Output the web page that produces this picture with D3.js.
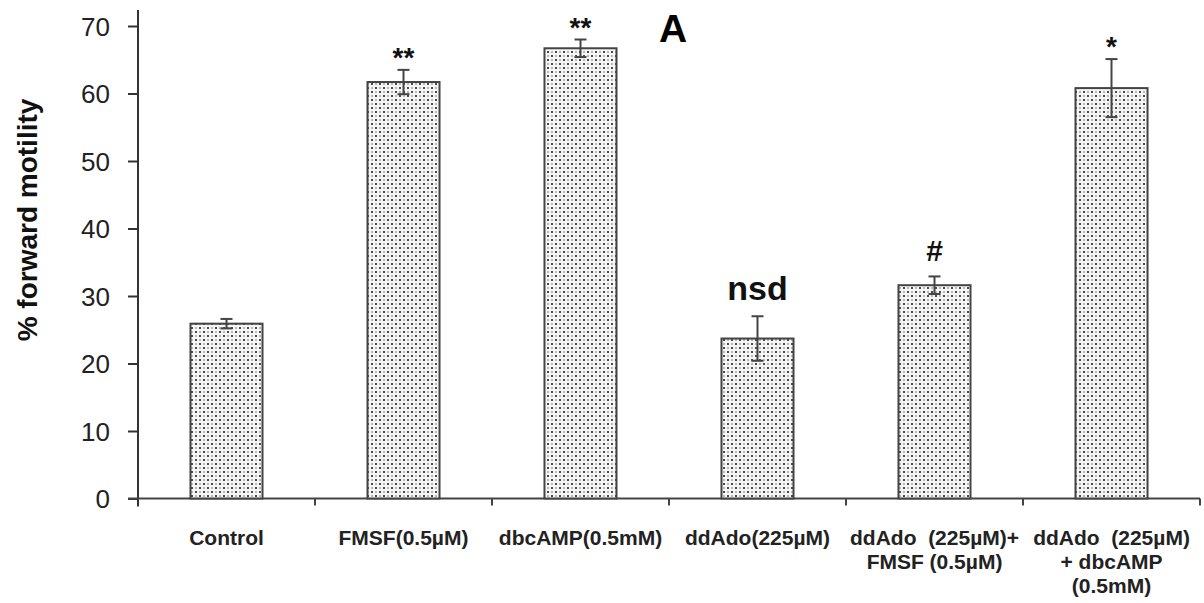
<!DOCTYPE html>
<html>
<head>
<meta charset="utf-8">
<script src="https://cdn.jsdelivr.net/npm/d3@7"></script>
<style>
  body { margin: 0; background: #fff; }
  text { font-family: "Liberation Sans", Arial, sans-serif; }
</style>
</head>
<body>
<div id="vizholder"></div>
<script>
// data
var categories = ["Control", "FMSF(0.5\u00b5M)", "dbcAMP(0.5mM)", "ddAdo(225\u00b5M)",
  "ddAdo  (225\u00b5M)+|FMSF (0.5\u00b5M)", "ddAdo  (225\u00b5M)|+ dbcAMP|(0.5mM)"];
var values = [25.9, 61.7, 66.7, 23.7, 31.6, 60.8];
var errors = [0.7, 1.8, 1.3, 3.3, 1.3, 4.3];
var marks = ["", "**", "**", "nsd", "#", "*"];
var yTicks = [0, 10, 20, 30, 40, 50, 60, 70];

var W = 1204, H = 603;
var margin = {top: 26, right: 4, bottom: 104.5, left: 138};

var svg = d3.select("#vizholder").append("svg")
  .attr("width", W).attr("height", H);

var defs = svg.append("defs");
var pat = defs.append("pattern")
  .attr("id", "dots").attr("patternUnits", "userSpaceOnUse")
  .attr("width", 8).attr("height", 8);
pat.append("rect").attr("width", 8).attr("height", 8).attr("fill", "#f6f6f6");
pat.append("rect").attr("x", 1).attr("y", 1).attr("width", 2).attr("height", 2).attr("fill", "#4a4a4a");
pat.append("rect").attr("x", 5).attr("y", 5).attr("width", 2).attr("height", 2).attr("fill", "#4a4a4a");
pat.append("rect").attr("x", 5).attr("y", 1).attr("width", 2).attr("height", 2).attr("fill", "#b8b8b8");
pat.append("rect").attr("x", 1).attr("y", 5).attr("width", 2).attr("height", 2).attr("fill", "#b8b8b8");

var width = W - margin.left - margin.right,
    height = H - margin.top - margin.bottom;

var g = svg.append("g")
  .attr("transform", "translate(" + margin.left + "," + margin.top + ")");

var x = d3.scaleBand().domain(categories).range([0, 1062]).paddingInner(0.593).paddingOuter(0.2965);
var y = d3.scaleLinear().domain([0, 70]).range([height, 0]);

// y axis
var yAxis = g.append("g")
  .call(d3.axisLeft(y).tickValues(yTicks).tickSize(10).tickSizeOuter(0));
yAxis.select(".domain").attr("stroke", "#333").attr("stroke-width", 2).attr("d", "M0," + (height + 8) + "V-16");
yAxis.selectAll(".tick line").attr("stroke", "#333").attr("stroke-width", 2);
yAxis.selectAll(".tick text")
  .attr("x", -28).attr("dy", "0.36em")
  .style("font-size", "26px").style("fill", "#222");

// x axis baseline and ticks at category boundaries
var step = x.step();
g.append("line")
  .attr("x1", -10).attr("x2", 1062)
  .attr("y1", height).attr("y2", height)
  .attr("stroke", "#444").attr("stroke-width", 2);
g.selectAll(".xtick")
  .data(d3.range(1, categories.length + 1))
  .enter().append("line")
  .attr("x1", function(d) { return d * step; })
  .attr("x2", function(d) { return d * step; })
  .attr("y1", height).attr("y2", height + 7)
  .attr("stroke", "#444").attr("stroke-width", 2);

// bars
g.selectAll(".bar")
  .data(values)
  .enter().append("rect")
  .attr("x", function(d, i) { return x(categories[i]); })
  .attr("y", function(d) { return y(d); })
  .attr("width", x.bandwidth())
  .attr("height", function(d) { return height - y(d); })
  .attr("fill", "url(#dots)")
  .attr("stroke", "#444").attr("stroke-width", 2);

// error bars
var eb = g.selectAll(".err")
  .data(values)
  .enter().append("g")
  .attr("transform", function(d, i) {
    return "translate(" + (x(categories[i]) + x.bandwidth() / 2) + ",0)";
  });
eb.append("line")
  .attr("y1", function(d, i) { return y(d + errors[i]); })
  .attr("y2", function(d, i) { return y(d - errors[i]); })
  .attr("stroke", "#444").attr("stroke-width", 2);
eb.append("line").attr("x1", -6).attr("x2", 6)
  .attr("y1", function(d, i) { return y(d + errors[i]); })
  .attr("y2", function(d, i) { return y(d + errors[i]); })
  .attr("stroke", "#444").attr("stroke-width", 2);
eb.append("line").attr("x1", -6).attr("x2", 6)
  .attr("y1", function(d, i) { return y(d - errors[i]); })
  .attr("y2", function(d, i) { return y(d - errors[i]); })
  .attr("stroke", "#444").attr("stroke-width", 2);

// significance marks (baseline offset above the error cap)
var markSize = {"**": 28, "*": 28, "nsd": 34, "#": 30};
var markGap = {"**": 3, "*": 3, "nsd": 16, "#": 15};
eb.append("text")
  .attr("text-anchor", "middle")
  .attr("y", function(d, i) { return y(d + errors[i]) - (markGap[marks[i]] || 0); })
  .style("font-weight", "bold")
  .style("font-size", function(d, i) { return (markSize[marks[i]] || 20) + "px"; })
  .style("fill", "#111")
  .text(function(d, i) { return marks[i]; });

// category labels
var xl = g.selectAll(".xlab")
  .data(categories)
  .enter().append("text")
  .attr("text-anchor", "middle")
  .attr("transform", function(d) {
    return "translate(" + (x(d) + x.bandwidth() / 2) + "," + (height + 46) + ")";
  })
  .style("font-weight", "bold").style("font-size", "21px").style("fill", "#222");
xl.selectAll("tspan")
  .data(function(d) { return d.split("|"); })
  .enter().append("tspan")
  .attr("x", 0)
  .attr("dy", function(d, i) { return i === 0 ? 0 : 24; })
  .style("white-space", "pre")
  .text(function(d) { return d; });

// y title
svg.append("text")
  .attr("transform", "translate(37,220) rotate(-90)")
  .attr("text-anchor", "middle")
  .style("font-weight", "bold").style("font-size", "28px").style("fill", "#111")
  .text("% forward motility");

// panel letter
svg.append("text")
  .attr("x", 673).attr("y", 42)
  .attr("text-anchor", "middle")
  .style("font-weight", "bold").style("font-size", "39px").style("fill", "#000")
  .text("A");
</script>
</body>
</html>
